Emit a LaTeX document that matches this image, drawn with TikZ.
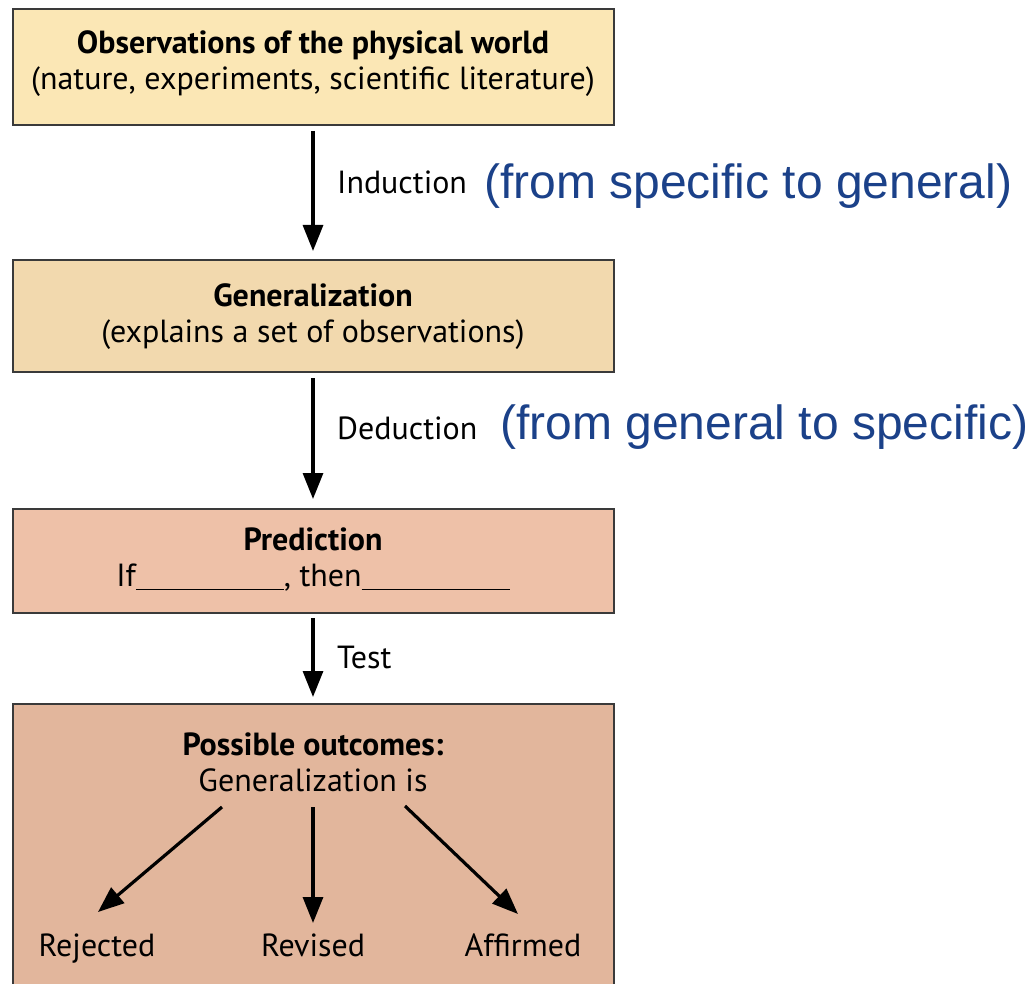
\documentclass[tikz,border=0pt]{standalone}
\usepackage{fontspec}
\setmainfont{PT Sans}
\newfontfamily\arialf{Liberation Sans}
\usetikzlibrary{arrows.meta}
\definecolor{c1}{HTML}{FBE7B5}
\definecolor{c2}{HTML}{F2D9AE}
\definecolor{c3}{HTML}{EEC1A8}
\definecolor{c4}{HTML}{E2B69C}
\definecolor{bord}{HTML}{3A3A3A}
\definecolor{blu}{HTML}{1B4189}
\tikzset{
  box/.style={draw=bord, line width=2pt, anchor=north west, minimum width=601pt, inner sep=0pt},
  txt/.style={align=center, font=\fontsize{32}{36}\selectfont, inner sep=0pt},
  lbl/.style={anchor=west, font=\fontsize{32}{36}\selectfont, inner sep=0pt},
  note/.style={anchor=west, text=blu, font=\arialf\fontsize{48}{52}\selectfont, inner sep=0pt},
  arr/.style={line width=3.2pt, -{Triangle[length=26pt,width=20pt]}},
}
\begin{document}
\begin{tikzpicture}[x=1pt,y=-1pt]
\useasboundingbox (0,0) rectangle (1036,984);
% boxes
\node[box, fill=c1, minimum height=116pt] (b1) at (12,8) {};
\node[box, fill=c2, minimum height=112pt] (b2) at (12,259) {};
\node[box, fill=c3, minimum height=104pt] (b3) at (12,508) {};
\node[box, fill=c4, minimum height=290pt] (b4) at (12,703) {};
% texts
\node[txt] (t1) at (313,64) {\textbf{Observations of the physical world}\\(nature, experiments, scientific literature)};
\node[txt] (t2) at (313,317) {\textbf{Generalization}\\(explains a set of observations)};
\node[txt] (t3) at (313,560) {\textbf{Prediction}\\If\rule[-3pt]{148pt}{1.4pt}, then\rule[-3pt]{148pt}{1.4pt}};
\node[txt] (t4) at (313,762) {\textbf{Possible outcomes:}\\Generalization is};
% connectors between boxes
\coordinate (a1s) at (313,131);
\coordinate (a1e) at (313,251);
\coordinate (a2s) at (313,378);
\coordinate (a2e) at (313,499);
\coordinate (a3s) at (313,618);
\coordinate (a3e) at (313,697);
\draw[arr] (a1s) -- (a1e);
\draw[arr] (a2s) -- (a2e);
\draw[arr] (a3s) -- (a3e);
\node[lbl] (l1) at (337,182) {Induction};
\node[lbl] (l2) at (337,428) {Deduction};
\node[lbl] (l3) at (337,657) {Test};
\node[note] (n1) at (484,186) {(from specific to general)};
\node[note] (n2) at (500,427) {(from general to specific)};
% outcomes
\node[lbl, anchor=base] (o1) at (97,956) {Rejected};
\node[lbl, anchor=base] (o2) at (313,956) {Revised};
\node[lbl, anchor=base] (o3) at (523,956) {Affirmed};
\coordinate (s1) at (222,807);
\coordinate (s2) at (313,807);
\coordinate (s3) at (405,806);
\coordinate (e1) at (98,912);
\coordinate (e2) at (313,923);
\coordinate (e3) at (518,914);
\draw[arr] (s1) -- (e1);
\draw[arr] (s2) -- (e2);
\draw[arr] (s3) -- (e3);
\end{tikzpicture}
\end{document}
